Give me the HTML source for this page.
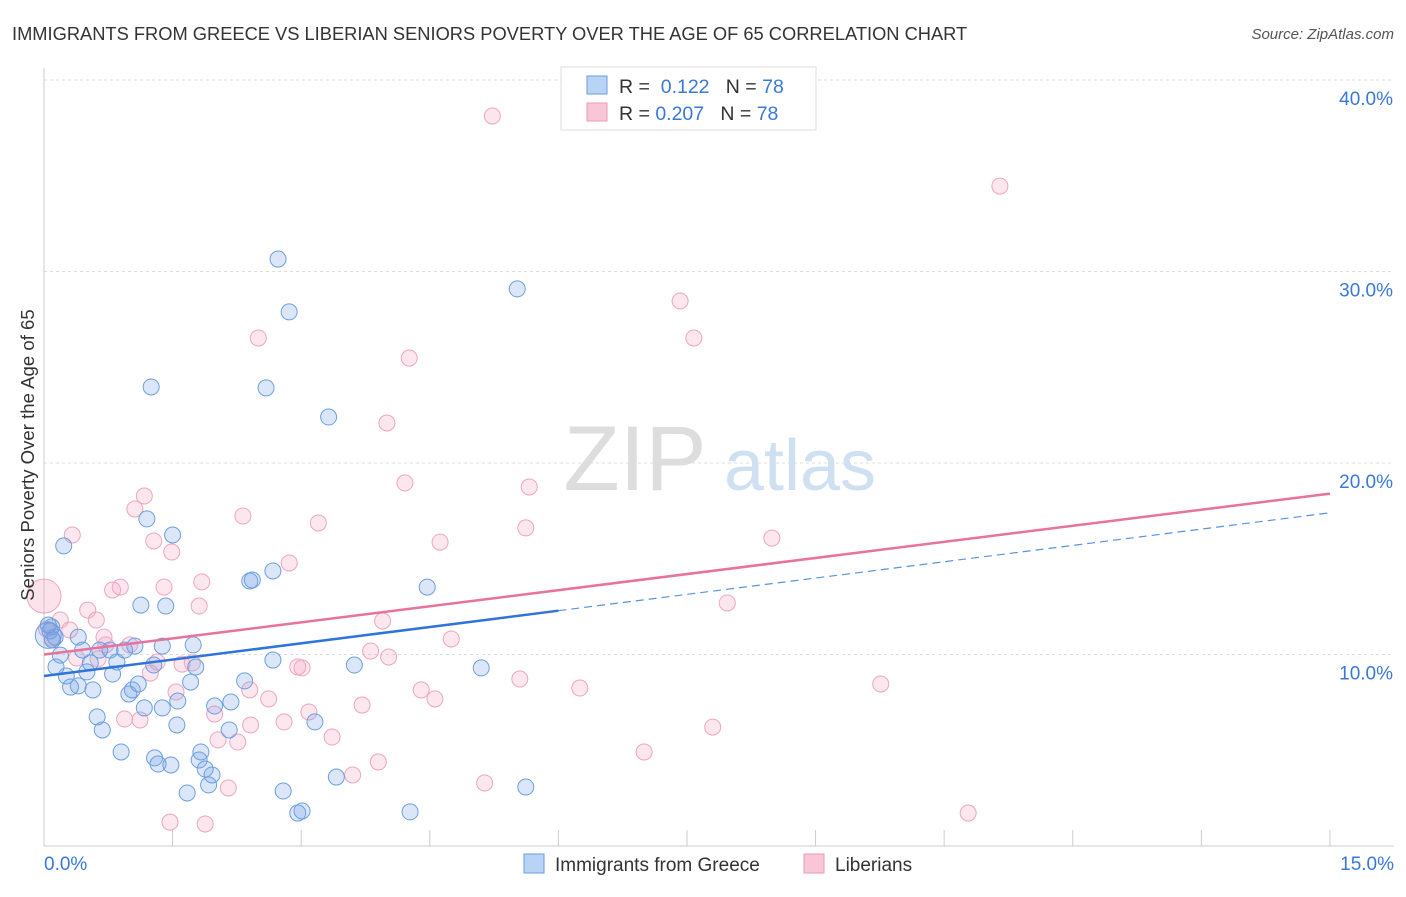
<!DOCTYPE html>
<html><head><meta charset="utf-8"><style>
body{margin:0;background:#fff;font-family:"Liberation Sans",sans-serif;}
svg text{font-family:"Liberation Sans",sans-serif;}
</style></head><body>
<svg id="chart" width="1406" height="892" viewBox="0 0 1406 892" xmlns="http://www.w3.org/2000/svg">
<text x="12" y="40" font-size="18.3" fill="#333">IMMIGRANTS FROM GREECE VS LIBERIAN SENIORS POVERTY OVER THE AGE OF 65 CORRELATION CHART</text>
<text x="1394" y="39" font-size="15" fill="#555" font-style="italic" text-anchor="end">Source: ZipAtlas.com</text>
<g>
<text x="635" y="490" font-size="92" fill="#ddd" font-family="Liberation Serif" text-anchor="middle">ZIP</text>
<text x="800" y="490" font-size="72" fill="#cfe0f3" text-anchor="middle">atlas</text>
</g>
<g id="grid"></g>
<g id="axes"></g>
<g id="pts"></g>
<g id="lines"></g>
<text transform="translate(34,455) rotate(-90)" font-size="18.6" fill="#333" text-anchor="middle">Seniors Poverty Over the Age of 65</text>
<g>
<rect x="561" y="67" width="255" height="63" fill="#fff" stroke="#ddd"/>
<rect x="587" y="76" width="20" height="18" fill="#b9d3f5" stroke="#6a9ee0"/>
<text x="619" y="93" font-size="19.5" fill="#333">R = <tspan fill="#3a78d8">&#160;0.122</tspan>&#160;&#160;&#160;N = <tspan fill="#3a78d8">78</tspan></text>
<rect x="587" y="103" width="20" height="18" fill="#f8c6d6" stroke="#eb9ab5"/>
<text x="619" y="120" font-size="19.5" fill="#333">R = <tspan fill="#3a78d8">0.207</tspan>&#160;&#160;&#160;N = <tspan fill="#3a78d8">78</tspan></text>
</g>
<g>
<rect x="524" y="854" width="20" height="19" fill="#b9d3f5" stroke="#6a9ee0"/>
<text x="555" y="871" font-size="19" fill="#333">Immigrants from Greece</text>
<rect x="804" y="854" width="20" height="19" fill="#f8c6d6" stroke="#eb9ab5"/>
<text x="835" y="871" font-size="19" fill="#333">Liberians</text>
</g>
</svg>
<script>
const blueX=[2.73,2.86,5.52,1.25,2.59,3.32,0.23,1.20,1.50,2.40,2.43,2.67,4.47,1.13,1.42,0.09,0.13,0.40,1.74,1.38,1.06,0.77,0.94,0.65,0.19,0.45,0.14,0.54,0.50,0.85,1.28,1.77,2.67,3.62,5.10,0.26,0.31,0.40,0.57,0.80,1.03,1.10,0.99,1.56,1.71,1.99,2.18,2.34,0.62,0.68,1.55,1.17,1.38,2.16,3.16,0.90,1.29,1.33,1.48,1.83,1.81,1.88,1.96,1.92,1.67,2.79,2.96,3.01,3.41,4.27,5.62,0.05,0.07,0.10];
const blueY=[30.65,27.89,29.09,23.97,23.92,22.40,15.67,17.08,16.24,13.84,13.89,14.36,13.52,12.58,12.53,11.44,10.91,10.91,10.50,10.44,10.44,10.23,10.23,10.23,9.97,10.23,9.35,9.56,9.09,9.61,9.45,9.35,9.71,9.45,9.30,8.88,8.30,8.36,8.15,8.98,8.15,8.46,7.94,7.57,8.56,7.31,7.52,8.62,6.74,6.06,6.32,7.21,7.21,6.06,6.48,4.91,4.60,4.28,4.23,4.91,4.49,4.02,3.71,3.19,2.77,2.87,1.72,1.83,3.60,1.78,3.08,11.54,11.23,10.76];
const pinkX=[5.23,11.15,7.42,7.58,2.50,4.26,4.00,4.21,5.66,1.17,1.06,2.32,0.33,1.28,1.49,3.20,5.62,4.62,8.49,2.86,1.84,1.40,0.80,0.89,1.81,0.61,0.51,0.19,0.30,0.70,1.00,0.72,3.95,4.75,7.97,1.32,1.73,1.61,2.96,3.01,4.02,3.81,1.24,0.63,0.38,1.54,2.40,2.62,3.09,3.71,4.40,4.56,5.55,6.25,9.76,1.99,2.03,2.26,2.41,2.80,3.36,0.94,1.12,3.90,3.60,5.14,7.00,7.80,2.15,1.47,1.88,10.78,0.03,0.09];
const pinkY=[38.12,34.46,28.46,26.53,26.53,25.48,22.09,18.96,18.75,18.28,17.60,17.23,16.24,15.93,15.35,16.87,16.61,15.87,16.08,14.78,13.79,13.52,13.37,13.52,12.53,11.80,12.32,11.80,11.28,10.91,10.50,10.50,11.75,10.81,12.69,9.61,9.56,9.50,9.35,9.30,9.87,10.18,9.03,9.77,9.82,8.04,8.15,7.68,7.00,7.36,8.15,7.68,8.72,8.25,8.46,6.89,5.54,5.43,6.32,6.48,5.69,6.63,6.58,4.39,3.71,3.29,4.91,6.21,3.03,1.25,1.15,1.72,11.33,10.86];
const bigX=[0,0.05];const bigY=[13.05,11.0];
const yTicks=[10,20,30,40];
const yTickLabels=["10.0%","20.0%","30.0%","40.0%"];
const xTicks=[0,1.5,3,4.5,6,7.5,9,10.5,12,13.5,15];
const blueLine=[8.88,17.4];const pinkLine=[10.0,18.4];
const X=v=>44+v*85.73, Y=v=>846-v*19.15;
const NS="http://www.w3.org/2000/svg";
function mk(p,t,a){const e=document.createElementNS(NS,t);for(const k in a)e.setAttribute(k,a[k]);document.getElementById(p).appendChild(e);return e;}
yTicks.forEach((t,i)=>{
 const l=mk('grid','line',{x1:44,x2:1394,y1:Y(t),y2:Y(t),stroke:'#ddd','stroke-dasharray':'3,3'});
 
 
 const tx=mk('axes','text',{x:1393,y:Y(t)+25,'font-size':19,fill:'#3a78d8','text-anchor':'end'});
 tx.textContent=yTickLabels[i];
 
 
});
mk('axes','line',{x1:44,x2:44,y1:68,y2:846,stroke:'#ccc'});
const xa=mk('axes','line',{x1:44,x2:1394,y1:846,y2:846,stroke:'#ccc'});


xTicks.forEach(t=>{const l=mk('axes','line',{x1:X(t),x2:X(t),y1:830,y2:846,stroke:'#ccc'});
 
 });
let a=mk('axes','text',{x:44,y:870,'font-size':19,fill:'#3a78d8'});a.textContent='0.0%';


a=mk('axes','text',{x:1394,y:870,'font-size':19,fill:'#3a78d8','text-anchor':'end'});a.textContent='15.0%';


function dots(xs,ys,fill,stroke,name,r){xs.forEach((x,i)=>{const c=mk('pts','circle',{cx:X(x),cy:Y(ys[i]),r:r,fill:fill,stroke:stroke,'stroke-width':1});
 
 });}
dots(pinkX,pinkY,'rgba(244,160,190,0.25)','#eea5bf','liberians-point',8);
dots(blueX,blueY,'rgba(110,160,230,0.25)','#6c9fe0','greece-point',8);
const bg=mk('pts','circle',{cx:X(bigX[0]),cy:Y(bigY[0]),r:17,fill:'rgba(244,160,190,0.3)',stroke:'#eea5bf'});


const bb=mk('pts','circle',{cx:X(bigX[1]),cy:Y(bigY[1]),r:13,fill:'rgba(110,160,230,0.25)',stroke:'#6c9fe0'});


const f=(arr,x)=>arr[0]+(arr[1]-arr[0])*x/15;
let l=mk('lines','line',{x1:X(0),y1:Y(f(pinkLine,0)),x2:X(15),y2:Y(f(pinkLine,15)),stroke:'#e8729c','stroke-width':2.5});


l=mk('lines','line',{x1:X(0),y1:Y(f(blueLine,0)),x2:X(6),y2:Y(f(blueLine,6)),stroke:'#2f74d6','stroke-width':2.5});


l=mk('lines','line',{x1:X(6),y1:Y(f(blueLine,6)),x2:X(15),y2:Y(f(blueLine,15)),stroke:'#5a92dc','stroke-width':1.2,'stroke-dasharray':'8,5'});


</script>
</body></html>
